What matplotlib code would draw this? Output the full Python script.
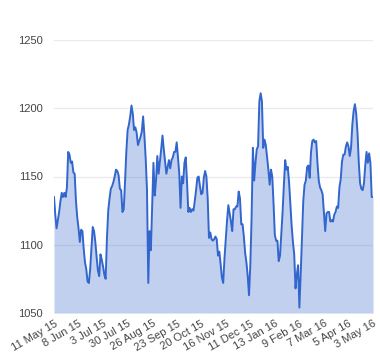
import numpy as np
import matplotlib
matplotlib.use("Agg")
import matplotlib.pyplot as plt

# cotizaciones diarias (dias habiles)
valores = [
    1135, 1122, 1112, 1118, 1124, 1132, 1138, 1135, 1138, 1135,
    1142, 1168, 1166, 1160, 1161, 1153, 1152, 1132, 1120, 1112,
    1102, 1111, 1110, 1097, 1087, 1082, 1073, 1072, 1082, 1098,
    1113, 1110, 1102, 1091, 1081, 1077, 1093, 1089, 1084, 1078,
    1075, 1105, 1125, 1134, 1141, 1143, 1146, 1150, 1155, 1154,
    1151, 1141, 1140, 1124, 1126, 1146, 1168, 1184, 1188, 1194,
    1202, 1196, 1184, 1186, 1182, 1173, 1176, 1179, 1183, 1194,
    1180, 1163, 1140, 1072, 1110, 1096, 1128, 1160, 1136, 1147,
    1165, 1152, 1161, 1170, 1180, 1170, 1161, 1152, 1157, 1162,
    1156, 1162, 1164, 1168, 1168, 1175, 1164, 1152, 1127, 1150,
    1145, 1160, 1164, 1146, 1124, 1127, 1124, 1126, 1125, 1132,
    1140, 1149, 1150, 1143, 1137, 1138, 1149, 1154, 1150, 1134,
    1105, 1109, 1104, 1103, 1104, 1106, 1104, 1092, 1095, 1086,
    1076, 1072, 1090, 1104, 1118, 1129, 1123, 1117, 1110, 1126,
    1126, 1128, 1128, 1139, 1134, 1115, 1115, 1106, 1094, 1087,
    1077, 1063, 1085, 1120, 1171, 1147, 1160, 1170, 1172, 1205,
    1211, 1205, 1171, 1177, 1173, 1164, 1155, 1144, 1155, 1150,
    1130, 1107, 1103, 1103, 1088, 1092, 1108, 1124, 1144, 1162,
    1155, 1157, 1146, 1130, 1114, 1102, 1093, 1068, 1078, 1085,
    1054, 1078, 1105, 1132, 1144, 1147, 1157, 1158, 1149, 1168,
    1176, 1177, 1175, 1176, 1160, 1147, 1142, 1140, 1137, 1123,
    1110, 1123, 1124, 1124, 1117, 1118, 1117, 1122, 1124, 1128,
    1127, 1142, 1148, 1161, 1166, 1166, 1172, 1175, 1172, 1165,
    1171, 1188, 1198, 1203, 1196, 1182, 1160, 1145, 1141, 1140,
    1145, 1158, 1168, 1160, 1167, 1160, 1135, 1135,
]

etiquetas_x = ["11 May 15", "8 Jun 15", "3 Jul 15", "30 Jul 15", "26 Aug 15",
               "23 Sep 15", "20 Oct 15", "16 Nov 15", "11 Dec 15", "13 Jan 16",
               "9 Feb 16", "7 Mar 16", "5 Apr 16", "3 May 16"]
paso_etiquetas = 19

eje_y = [1050, 1100, 1150, 1200, 1250]

plt.rcParams['font.family'] = ['Liberation Sans', 'DejaVu Sans']

x = np.arange(len(valores))

figura = plt.figure(figsize=(3.8, 3.6), dpi=100)
ax = figura.add_axes([54 / 380, 1 - 313 / 360, 319 / 380, 273 / 360])

azul = '#3366CC'
ax.fill_between(x, valores, 1050, color=azul, alpha=0.3, linewidth=0, zorder=2)
ax.plot(x, valores, color=azul, linewidth=1.4, zorder=3)

ax.set_xlim(0, len(valores) - 1)
ax.set_ylim(1050, 1250)
ax.set_yticks(eje_y)
ax.set_xticks([i * paso_etiquetas for i in range(len(etiquetas_x))])
ax.set_xticklabels(etiquetas_x, rotation=30, ha='right', rotation_mode='anchor')

ax.grid(axis='y', color='#ebebeb', linewidth=1, zorder=1)
ax.set_axisbelow(True)
for s in ax.spines.values():
    s.set_visible(False)
ax.tick_params(axis='both', length=0, labelsize=8, colors='#444444')
ax.tick_params(axis='y', pad=8)
ax.tick_params(axis='x', pad=4)

figura.savefig('out.png', dpi=100)
